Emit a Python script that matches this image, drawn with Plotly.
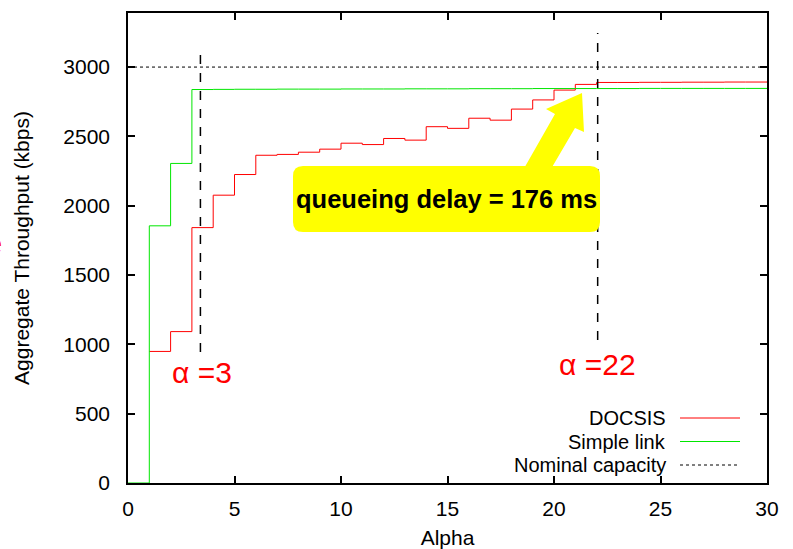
import plotly.graph_objects as go

# ---- data ----
alpha = list(range(1, 31))
docsis = [949, 1092, 1842, 2076, 2225, 2364, 2370, 2386, 2408, 2451,
          2441, 2485, 2473, 2570, 2558, 2631, 2617, 2697, 2763, 2834,
          2875, 2889, 2889, 2890, 2890, 2891, 2891, 2892, 2892, 2893]
simple_x = [0] + alpha
simple = [0, 1855, 2305, 2838, 2839, 2840, 2840, 2841, 2841, 2841, 2842,
          2842, 2842, 2843, 2843, 2843, 2844, 2844, 2844, 2845, 2845,
          2845, 2845, 2845, 2846, 2846, 2846, 2846, 2846, 2846, 2846]
nominal_x = [0, 30]
nominal = [3000, 3000]

marker_alphas = [3.4, 22.05]
marker_y0 = [945, 1031]
marker_y1 = [3144, 3245]
marker_labels = ["\u03b1 =3", "\u03b1 =22"]
label_pos = [(1.95, 800), (20.15, 858)]

callout_text = "queueing delay = 176 ms"

x_ticks = [0, 5, 10, 15, 20, 25, 30]
y_ticks = [0, 500, 1000, 1500, 2000, 2500, 3000]

XMAX, YMAX = 30, 3390
FONT = "Liberation Sans, Arial, Helvetica, sans-serif"

fig = go.Figure()
fig.add_trace(go.Scatter(x=alpha, y=docsis, mode="lines", line_shape="hv",
                         line=dict(color="#ff0000", width=1), name="DOCSIS",
                         showlegend=False))
fig.add_trace(go.Scatter(x=simple_x, y=simple, mode="lines", line_shape="hv",
                         line=dict(color="#00e600", width=1), name="Simple link",
                         showlegend=False))
fig.add_trace(go.Scatter(x=nominal_x, y=nominal, mode="lines",
                         line=dict(color="black", width=1, dash="dot"),
                         name="Nominal capacity", showlegend=False))

shapes = []
annotations = []

# dashed alpha markers
for xa, y0, y1, lab, (lx, ly) in zip(marker_alphas, marker_y0, marker_y1, marker_labels, label_pos):
    shapes.append(dict(type="line", xref="x", yref="y", x0=xa, x1=xa, y0=y0, y1=y1,
                       line=dict(color="black", width=1.5, dash="dash")))
    annotations.append(dict(x=lx, y=ly, xref="x", yref="y", text=lab, showarrow=False,
                            xanchor="left", yanchor="middle",
                            font=dict(family=FONT, size=30, color="#ff0000")))

# pixel -> data helpers for callout geometry
PX_L, PX_R, PX_T, PX_B = 128, 767, 13, 483
def dx(px):
    return (px - PX_L) / (PX_R - PX_L) * XMAX
def dy(py):
    return (PX_B - py) / (PX_B - PX_T) * YMAX

# yellow arrow
arrow_px = [(514, 186), (555, 114), (546, 109), (582, 93), (584, 132), (575, 128), (541, 186)]
path = "M " + " L ".join(f"{dx(a):.4f},{dy(b):.2f}" for a, b in arrow_px) + " Z"
shapes.append(dict(type="path", xref="x", yref="y", path=path,
                   fillcolor="#ffff00", line=dict(width=0)))

# rounded callout box
bl, br, bt, bb, r = 293, 600, 166, 232, 10
p = (f"M {dx(bl+r)},{dy(bt)} L {dx(br-r)},{dy(bt)} Q {dx(br)},{dy(bt)} {dx(br)},{dy(bt+r)} "
     f"L {dx(br)},{dy(bb-r)} Q {dx(br)},{dy(bb)} {dx(br-r)},{dy(bb)} "
     f"L {dx(bl+r)},{dy(bb)} Q {dx(bl)},{dy(bb)} {dx(bl)},{dy(bb-r)} "
     f"L {dx(bl)},{dy(bt+r)} Q {dx(bl)},{dy(bt)} {dx(bl+r)},{dy(bt)} Z")
shapes.append(dict(type="path", xref="x", yref="y", path=p,
                   fillcolor="#ffff00", line=dict(width=0), layer="above"))
annotations.append(dict(x=dx(446.5), y=dy(199), xref="x", yref="y", text="<b>" + callout_text + "</b>",
                        showarrow=False, xanchor="center", yanchor="middle",
                        font=dict(family=FONT, size=25.5, color="black")))

# manual gnuplot-style legend (text, then sample)
legend_names = ["DOCSIS", "Simple link", "Nominal capacity"]
legend_styles = [dict(color="#ff0000", width=1), dict(color="#00e600", width=1),
                 dict(color="black", width=1, dash="dot")]
legend_rows_px = [418, 441.5, 465]
for name, st, py in zip(legend_names, legend_styles, legend_rows_px):
    annotations.append(dict(x=dx(667), y=dy(py), xref="x", yref="y", text=name, showarrow=False,
                            xanchor="right", yanchor="middle", borderpad=0,
                            font=dict(family=FONT, size=20, color="black")))
    shapes.append(dict(type="line", xref="x", yref="y", x0=dx(680), x1=dx(740), y0=dy(py), y1=dy(py),
                       line=st))

# clipped red glyph at the left edge
annotations.append(dict(x=(4 - PX_L) / (PX_R - PX_L), y=dy(244), xref="paper", yref="y", text="e",
                        showarrow=False, xanchor="right", yanchor="middle",
                        font=dict(family=FONT, size=29, color="#ff0000")))

fig.update_layout(
    width=793, height=549,
    margin=dict(l=PX_L, r=793 - PX_R, t=PX_T, b=549 - PX_B),
    plot_bgcolor="white", paper_bgcolor="white",
    font=dict(family=FONT, size=21, color="black"),
    shapes=shapes, annotations=annotations, showlegend=False,
)
fig.update_xaxes(range=[0, XMAX], tickvals=x_ticks, ticks="inside", ticklen=7, tickwidth=1.5,
                 tickcolor="black", showline=True, linecolor="black", linewidth=1.5, mirror="ticks",
                 showgrid=False, zeroline=False, ticklabelstandoff=6, automargin=False,
                 title=dict(text="Alpha", font=dict(size=21), standoff=14))
fig.update_yaxes(range=[0, YMAX], tickvals=y_ticks, ticks="inside", ticklen=7, tickwidth=1.5,
                 tickcolor="black", showline=True, linecolor="black", linewidth=1.5, mirror="ticks",
                 showgrid=False, zeroline=False, ticklabelstandoff=12, automargin=False,
                 title=dict(text="Aggregate Throughput (kbps)", font=dict(size=21), standoff=28))

fig.write_html("out.html")
